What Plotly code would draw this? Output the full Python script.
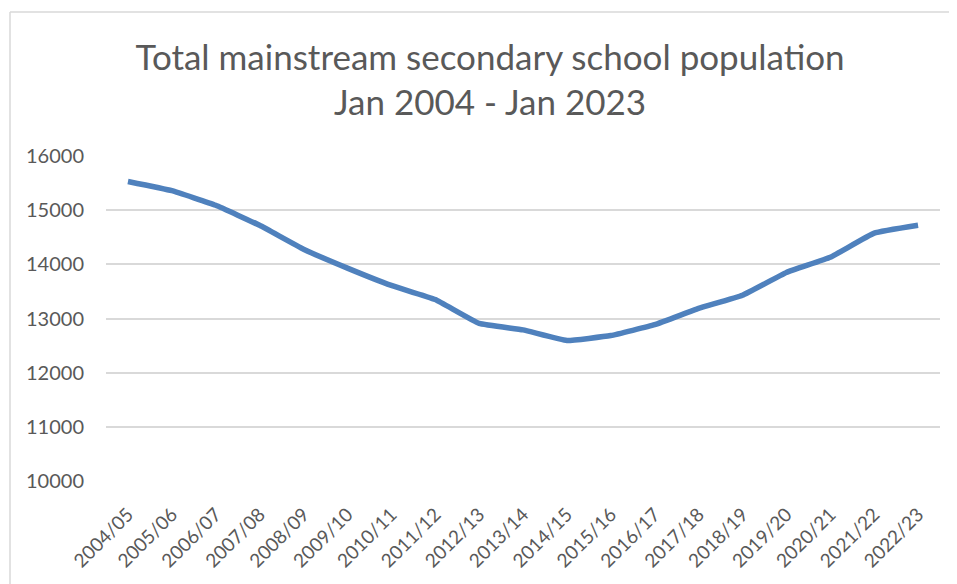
import plotly.graph_objects as go

# school years (January census)
years = [
    "2004/05", "2005/06", "2006/07", "2007/08", "2008/09", "2009/10", "2010/11",
    "2011/12", "2012/13", "2013/14", "2014/15", "2015/16", "2016/17", "2017/18",
    "2018/19", "2019/20", "2020/21", "2021/22", "2022/23",
]
pupils = [
    15530, 15360, 15090, 14720, 14280, 13930, 13610, 13350, 12910, 12790,
    12595, 12685, 12885, 13185, 13430, 13850, 14130, 14575, 14720,
]
y_ticks = [10000, 11000, 12000, 13000, 14000, 15000, 16000]
y_tick_text = [str(v) for v in y_ticks]

grey_text = "#595959"
line_blue = "#4F81BD"

fig = go.Figure()
fig.add_trace(
    go.Scatter(
        x=years,
        y=pupils,
        mode="lines",
        line=dict(color=line_blue, width=5.5, shape="spline", smoothing=0.3),
        hoverinfo="x+y",
    )
)

fig.update_xaxes(
    type="category",
    range=[-0.5, len(years) - 0.5],
    tickangle=-45,
    tickfont=dict(size=19, color=grey_text),
    showgrid=False,
    showline=False,
    ticks="outside",
    ticklen=14,
    tickcolor="rgba(0,0,0,0)",
    automargin=False,
)
fig.update_yaxes(
    range=[10000, 16000],
    tickvals=y_ticks,
    ticktext=y_tick_text,
    tickfont=dict(size=20, color=grey_text),
    ticklabelstandoff=21,
    gridcolor="#D9D9D9",
    gridwidth=1.5,
    zeroline=False,
    showline=False,
    ticks="",
    automargin=False,
)

# outer chart border (left and top edges visible in the crop)
fig.add_shape(type="line", xref="paper", yref="paper",
              x0=-0.1151, x1=-0.1151, y0=1.443, y1=-0.4,
              line=dict(color="#D9D9D9", width=1.5))
fig.add_shape(type="line", xref="paper", yref="paper",
              x0=-0.1151, x1=1.1, y0=1.443, y1=1.443,
              line=dict(color="#D9D9D9", width=1.5))

# the page body adds an 8px margin, so margins are offset by 8px
fig.update_layout(
    title=dict(
        text="Total mainstream secondary school population<br>Jan 2004 - Jan 2023",
        font=dict(family="Lato, sans-serif", size=35, color=grey_text),
        x=0.5037,
        xanchor="center",
        xref="container",
        y=0.894,
        yanchor="top",
        yref="container",
    ),
    font=dict(family="Lato, sans-serif", color=grey_text),
    width=957,
    height=584,
    margin=dict(l=98, r=25, t=148, b=111),
    plot_bgcolor="white",
    paper_bgcolor="white",
    showlegend=False,
)

fig.write_html("out.html")
